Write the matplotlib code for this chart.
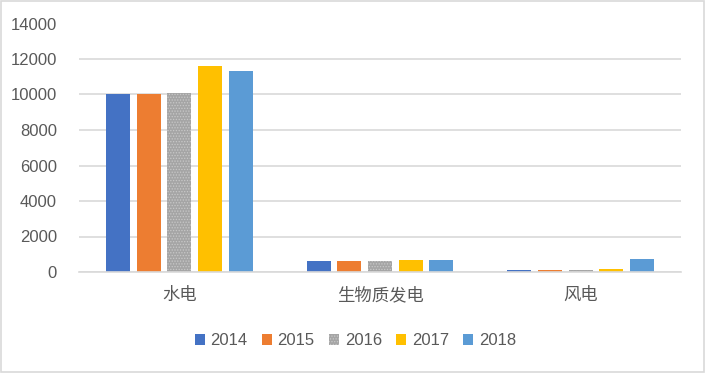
import numpy as np
import matplotlib
matplotlib.use("Agg")
import matplotlib.pyplot as plt
from matplotlib.patches import Rectangle

# data
categories = ["水电", "生物质发电", "风电"]
years = ["2014", "2015", "2016", "2017", "2018"]
v2014 = [10050, 600, 140]
v2015 = [10050, 600, 140]
v2016 = [10100, 600, 140]
v2017 = [11600, 660, 190]
v2018 = [11300, 660, 720]
series = [v2014, v2015, v2016, v2017, v2018]

colors = ["#4472c4", "#ed7d31", "#a5a5a5", "#ffc000", "#5b9bd5"]
hatches = [None, None, "......", None, None]

plt.rcParams["font.family"] = ["Liberation Sans", "Noto Sans CJK SC", "DejaVu Sans"]
plt.rcParams["hatch.linewidth"] = 0.6

fig = plt.figure(figsize=(7.05, 3.73), dpi=100)
ax = fig.add_axes([79 / 705, 1 - 272 / 373, (681 - 79) / 705, (272 - 23.5) / 373])

x = np.arange(len(categories))
step = 0.153
width = 0.12
for i, (vals, col, h) in enumerate(zip(series, colors, hatches)):
    off = (i - 2) * step
    if h:
        ax.bar(x + off, vals, width, color=col, edgecolor="#c8c8c8",
               linewidth=0, hatch=h, label=years[i])
    else:
        ax.bar(x + off, vals, width, color=col, label=years[i])

ax.set_xlim(-0.5, 2.5)
ax.set_ylim(0, 14000)
ax.set_yticks(np.arange(0, 14001, 2000))
ax.set_xticks(x)
ax.set_xticklabels(categories, family=["Noto Sans CJK SC", "DejaVu Sans"], fontsize=12.5)
ax.tick_params(axis="y", length=0, pad=16, labelsize=12, labelcolor="#595959")
ax.tick_params(axis="x", length=0, pad=10, labelcolor="#595959")

ax.grid(axis="y", color="#d9d9d9", linewidth=1.2)
ax.set_axisbelow(True)
for s in ["top", "right", "left"]:
    ax.spines[s].set_visible(False)
ax.spines["bottom"].set_color("#d9d9d9")
ax.spines["bottom"].set_linewidth(1.2)

fig.legend(loc="center", bbox_to_anchor=(0.504, 0.086), ncol=5, frameon=False,
           fontsize=12, labelcolor="#595959", handlelength=0.6, handleheight=0.6,
           handletextpad=0.35, columnspacing=0.85)

fig.patches.append(Rectangle((0.001, 0.002), 0.997, 0.995, transform=fig.transFigure,
                             fill=False, edgecolor="#d9d9d9", linewidth=1.2))

fig.savefig("out.png", dpi=100)
